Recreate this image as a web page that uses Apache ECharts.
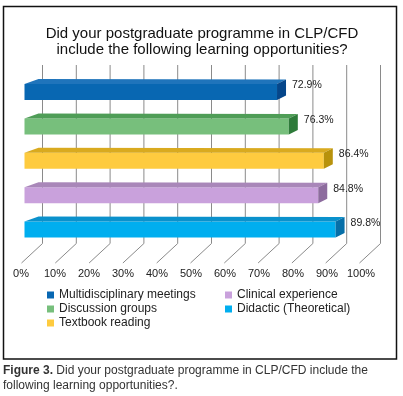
<!DOCTYPE html>
<html>
<head>
<meta charset="utf-8">
<script src="https://cdn.jsdelivr.net/npm/echarts@6/dist/echarts.min.js"></script>
<style>
	html, body { margin: 0; padding: 0; background: #fff; }
	#main { width: 403px; height: 396px; }
</style>
</head>
<body>
<div id="main"></div>
<script>
	// data
	var categories = ['Multidisciplinary meetings', 'Discussion groups', 'Textbook reading', 'Clinical experience', 'Didactic (Theoretical)']
	var values = [72.9, 76.3, 86.4, 84.8, 89.8]
	var gridTicks = [0, 10, 20, 30, 40, 50, 60, 70, 80, 90, 100]

	// face colours (front / top / side)
	var frontColors = ['#0867b2', '#77bf7c', '#fecb3f', '#c9a1dc', '#00aeef']
	var topColors = ['#1f74bb', '#4f9d57', '#d9aa1f', '#a987b9', '#0a91cc']
	var sideColors = ['#05468a', '#2e7b3a', '#b8920c', '#8d6c9e', '#066fa8']

	var fontFamily = '"Liberation Sans", Arial, sans-serif'

	var myChart = echarts.init(document.getElementById('main'))

	// wall lines + floor diagonals
	var wallSeries = {
		type: 'custom',
		xAxisIndex: 0,
		yAxisIndex: 0,
		silent: true,
		z: 1,
		data: gridTicks.map(function (t) { return [t, 0] }),
		renderItem: function (params, api) {
			var top = api.coord([api.value(0), 1])
			var bot = api.coord([api.value(0), 0])
			return {
				type: 'polyline',
				shape: { points: [top, bot, [bot[0] - 21, bot[1] + 19.5]] },
				style: { stroke: '#8a8a8a', lineWidth: 1, fill: null }
			}
		}
	}

	function barRender(idx) {
		return function (params, api) {
			var p0 = api.coord([0, api.value(1)])
			var p1 = api.coord([api.value(0), api.value(1)])
			var x0 = p0[0], x1 = p1[0], yc = p1[1]
			var yt = yc - 8, yb = yc + 8
			return {
				type: 'group',
				children: [
					{
						type: 'rect',
						shape: { x: x0, y: yt, width: x1 - x0, height: yb - yt },
						style: { fill: frontColors[idx] }
					},
					{
						type: 'polygon',
						shape: { points: [[x0, yt], [x1, yt], [x1 + 9, yt - 4.5], [x0 + 14, yt - 5]] },
						style: { fill: topColors[idx] }
					},
					{
						type: 'polygon',
						shape: { points: [[x1, yt], [x1 + 9, yt - 4.5], [x1 + 9, yb - 4.5], [x1, yb]] },
						style: { fill: sideColors[idx] }
					},
					{
						type: 'text',
						style: {
							x: x1 + 15, y: yt + 1.5,
							text: api.value(0).toFixed(1) + '%',
							fill: '#222', fontSize: 10.5, fontFamily: fontFamily,
							verticalAlign: 'middle', align: 'left'
						}
					}
				]
			}
		}
	}

	var barSeries = categories.map(function (name, i) {
		return {
			type: 'custom',
			name: name,
			xAxisIndex: 1,
			yAxisIndex: 1,
			z: 2,
			itemStyle: { color: frontColors[i] },
			data: [[values[i], i]],
			renderItem: barRender(i)
		}
	})

	var legendBase = {
		orient: 'vertical',
		icon: 'rect',
		itemWidth: 7,
		itemHeight: 7,
		itemGap: 2,
		padding: 0,
		textStyle: { color: '#222', fontSize: 12, fontFamily: fontFamily },
		selectedMode: false
	}

	var option = {
		animation: false,
		backgroundColor: '#fff',
		title: [
			{
				text: 'Did your postgraduate programme in CLP/CFD\ninclude the following learning opportunities?',
				left: 202,
				top: 26,
				padding: 0,
				textAlign: 'center',
				textStyle: { color: '#111', fontSize: 15, fontWeight: 'normal', lineHeight: 16, fontFamily: fontFamily }
			},
			{
				text: '{b|Figure 3.} Did your postgraduate programme in CLP/CFD include the\nfollowing learning opportunities?.',
				left: 3,
				top: 363,
				padding: 0,
				textStyle: {
					color: '#333', fontSize: 12, fontWeight: 'normal', lineHeight: 15, fontFamily: fontFamily,
					rich: { b: { fontWeight: 'bold', fontSize: 12, color: '#333', fontFamily: fontFamily } }
				}
			}
		],
		legend: [
			Object.assign({}, legendBase, { left: 47, top: 289, data: categories.slice(0, 3) }),
			Object.assign({}, legendBase, { left: 225, top: 289, data: categories.slice(3) })
		],
		grid: [
			{ left: 42.5, right: 22.5, top: 65, bottom: 152.5 },   // back wall
			{ left: 24.5, right: 32.1, top: 74.8, height: 172 },   // bars
			{ left: 21, right: 42, top: 260, height: 5 }           // floor labels
		],
		xAxis: [
			{ gridIndex: 0, type: 'value', min: 0, max: 100, interval: 10, show: false },
			{ gridIndex: 1, type: 'value', min: 0, max: 100, interval: 10, show: false },
			{
				gridIndex: 2, type: 'value', min: 0, max: 100, interval: 10,
				axisLine: { show: false }, axisTick: { show: false }, splitLine: { show: false },
				axisLabel: { formatter: '{value}%', color: '#222', fontSize: 11, fontFamily: fontFamily, margin: 3 }
			}
		],
		yAxis: [
			{ gridIndex: 0, type: 'value', min: 0, max: 1, show: false },
			{ gridIndex: 1, type: 'category', data: categories, inverse: true, show: false },
			{ gridIndex: 2, type: 'value', show: false }
		],
		graphic: [
			{
				type: 'rect',
				shape: { x: 3.5, y: 6.5, width: 393, height: 352.5 },
				style: { fill: null, stroke: '#111', lineWidth: 1.5 },
				silent: true
			}
		],
		series: [wallSeries].concat(barSeries)
	}

	myChart.setOption(option)
</script>
</body>
</html>
